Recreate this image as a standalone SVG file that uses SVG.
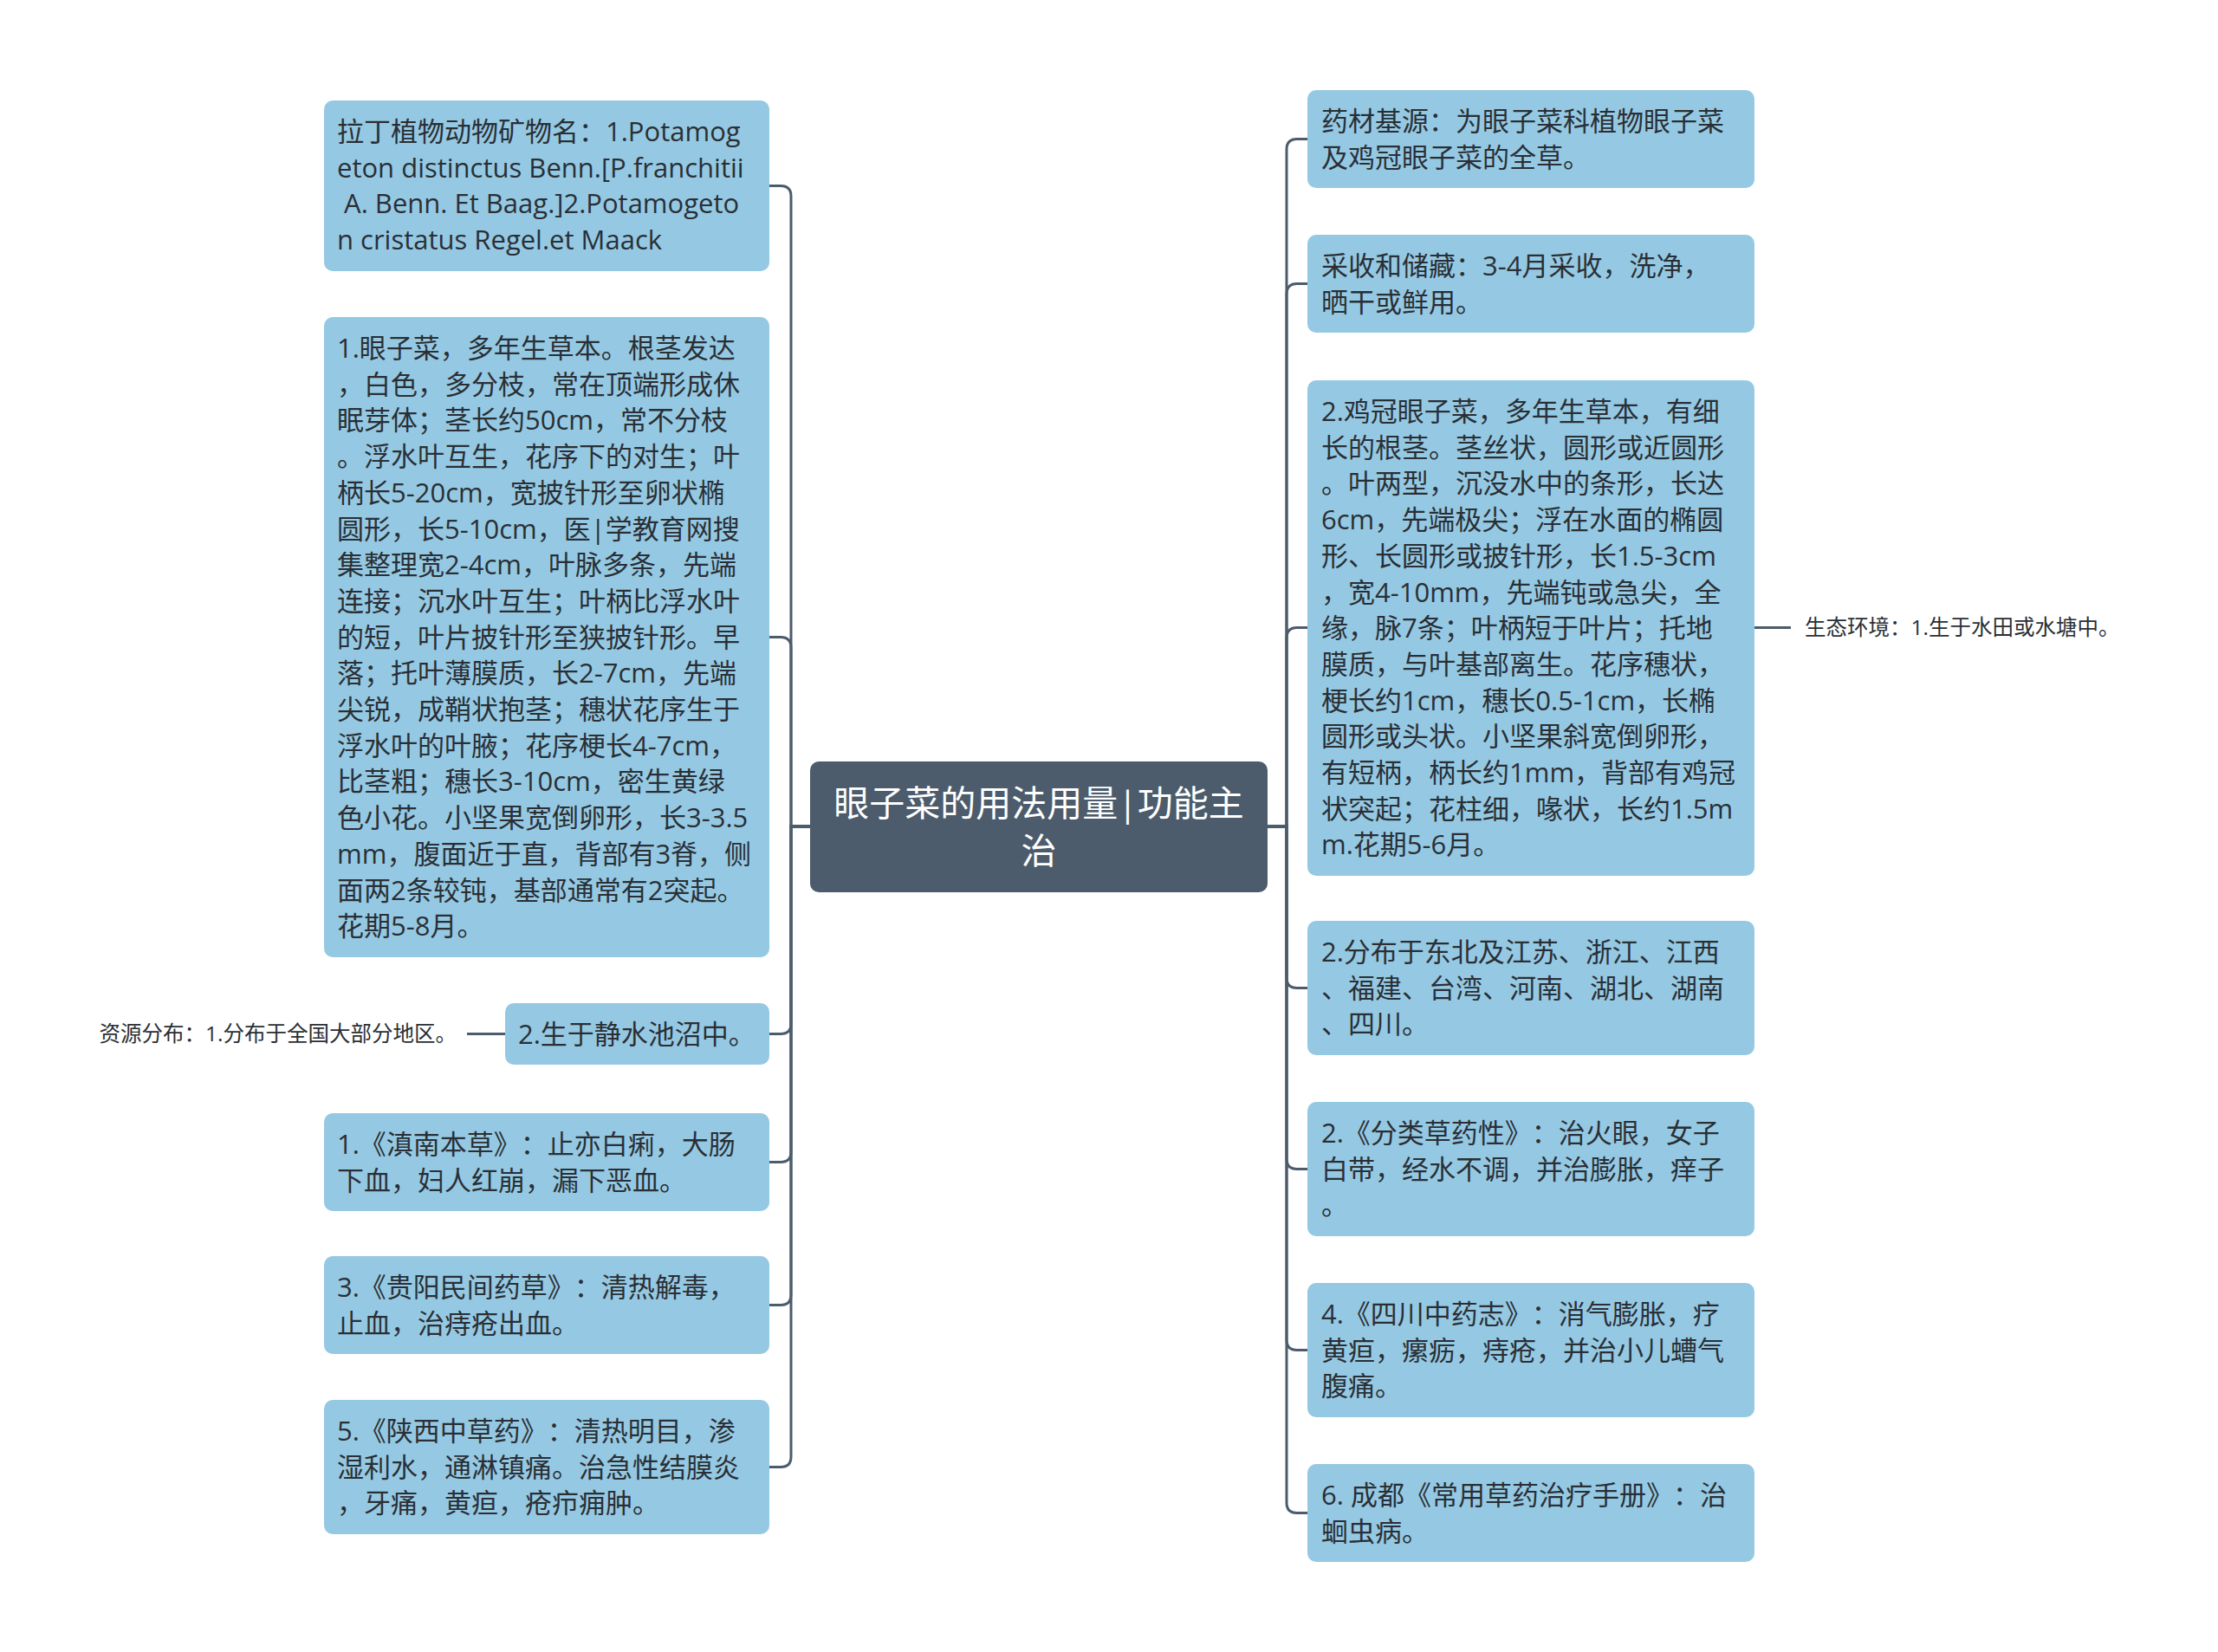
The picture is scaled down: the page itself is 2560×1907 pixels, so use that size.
<svg xmlns="http://www.w3.org/2000/svg" width="2560" height="1907" viewBox="0 0 2560 1907">
<style>
.box{fill:#95C9E3;}
.root{fill:#4C5C6C;}
.t{font-family:"Open Sans","Noto Sans CJK SC",sans-serif;font-size:31px;fill:#2A2F35;text-spacing-trim:space-all;}
.rt{font-family:"Open Sans","Noto Sans CJK SC",sans-serif;font-size:41px;fill:#FFFFFF;text-anchor:middle;}
.lab{font-family:"Open Sans","Noto Sans CJK SC",sans-serif;font-size:24.5px;fill:#2A2F35;text-spacing-trim:space-all;}
.c{fill:none;stroke:#4C5C6C;stroke-width:3;}
</style>
<rect width="2560" height="1907" fill="#FFFFFF"/>
<g id="connectors">
<path class="c" d="M935 954 H913 V226.5 Q913 214.5 901 214.5 H888"/>
<path class="c" d="M935 954 H913 V747.5 Q913 735.5 901 735.5 H888"/>
<path class="c" d="M935 954 H913 V1181.5 Q913 1193.5 901 1193.5 H888"/>
<path class="c" d="M935 954 H913 V1329.5 Q913 1341.5 901 1341.5 H888"/>
<path class="c" d="M935 954 H913 V1494.5 Q913 1506.5 901 1506.5 H888"/>
<path class="c" d="M935 954 H913 V1681.5 Q913 1693.5 901 1693.5 H888"/>
<path class="c" d="M1463 954 H1485 V172.5 Q1485 160.5 1497 160.5 H1509"/>
<path class="c" d="M1463 954 H1485 V339.5 Q1485 327.5 1497 327.5 H1509"/>
<path class="c" d="M1463 954 H1485 V736.5 Q1485 724.5 1497 724.5 H1509"/>
<path class="c" d="M1463 954 H1485 V1128.5 Q1485 1140.5 1497 1140.5 H1509"/>
<path class="c" d="M1463 954 H1485 V1337.5 Q1485 1349.5 1497 1349.5 H1509"/>
<path class="c" d="M1463 954 H1485 V1546.5 Q1485 1558.5 1497 1558.5 H1509"/>
<path class="c" d="M1463 954 H1485 V1734.5 Q1485 1746.5 1497 1746.5 H1509"/>
<path class="c" d="M583 1193.5 H539"/>
<path class="c" d="M2025 724.5 H2067"/>
</g>
<g id="root">
<rect class="root" x="935" y="879" width="528" height="151" rx="10"/>
<text class="rt" x="1199" y="942">眼子菜的用法用量|功能主</text>
<text class="rt" x="1199" y="997">治</text>
</g>
<g id="n_latin">
<rect class="box" x="374" y="116" width="514" height="197" rx="10"/>
<text class="t" xml:space="preserve"><tspan x="389" y="163">拉丁植物动物矿物名：1.Potamog</tspan><tspan x="389" y="204.7">eton distinctus Benn.[P.franchitii</tspan><tspan x="389" y="246.4"> A. Benn. Et Baag.]2.Potamogeto</tspan><tspan x="389" y="288.1">n cristatus Regel.et Maack</tspan></text>
</g>
<g id="n_desc1">
<rect class="box" x="374" y="366" width="514" height="739" rx="10"/>
<text class="t"><tspan x="389" y="413">1.眼子菜，多年生草本。根茎发达</tspan><tspan x="389" y="454.7">，白色，多分枝，常在顶端形成休</tspan><tspan x="389" y="496.4">眠芽体；茎长约50cm，常不分枝</tspan><tspan x="389" y="538.1">。浮水叶互生，花序下的对生；叶</tspan><tspan x="389" y="579.8">柄长5-20cm，宽披针形至卵状椭</tspan><tspan x="389" y="621.5">圆形，长5-10cm，医|学教育网搜</tspan><tspan x="389" y="663.2">集整理宽2-4cm，叶脉多条，先端</tspan><tspan x="389" y="704.9">连接；沉水叶互生；叶柄比浮水叶</tspan><tspan x="389" y="746.6">的短，叶片披针形至狭披针形。早</tspan><tspan x="389" y="788.3">落；托叶薄膜质，长2-7cm，先端</tspan><tspan x="389" y="830">尖锐，成鞘状抱茎；穗状花序生于</tspan><tspan x="389" y="871.7">浮水叶的叶腋；花序梗长4-7cm，</tspan><tspan x="389" y="913.4">比茎粗；穗长3-10cm，密生黄绿</tspan><tspan x="389" y="955.1">色小花。小坚果宽倒卵形，长3-3.5</tspan><tspan x="389" y="996.8">mm，腹面近于直，背部有3脊，侧</tspan><tspan x="389" y="1038.5">面两2条较钝，基部通常有2突起。</tspan><tspan x="389" y="1080.2">花期5-8月。</tspan></text>
</g>
<g id="n_habitat">
<rect class="box" x="583" y="1158" width="305" height="71" rx="10"/>
<text class="t" x="598" y="1205">2.生于静水池沼中。</text>
</g>
<g id="n_distribution_label">
<text class="lab" x="527" y="1202" text-anchor="end">资源分布：1.分布于全国大部分地区。</text>
</g>
<g id="n_diannan">
<rect class="box" x="374" y="1285" width="514" height="113" rx="10"/>
<text class="t"><tspan x="389" y="1332">1.《滇南本草》：止亦白痢，大肠</tspan><tspan x="389" y="1373.7">下血，妇人红崩，漏下恶血。</tspan></text>
</g>
<g id="n_guiyang">
<rect class="box" x="374" y="1450" width="514" height="113" rx="10"/>
<text class="t"><tspan x="389" y="1497">3.《贵阳民间药草》：清热解毒，</tspan><tspan x="389" y="1538.7">止血，治痔疮出血。</tspan></text>
</g>
<g id="n_shaanxi">
<rect class="box" x="374" y="1616" width="514" height="155" rx="10"/>
<text class="t"><tspan x="389" y="1663">5.《陕西中草药》：清热明目，渗</tspan><tspan x="389" y="1704.7">湿利水，通淋镇痛。治急性结膜炎</tspan><tspan x="389" y="1746.4">，牙痛，黄疸，疮疖痈肿。</tspan></text>
</g>
<g id="n_source">
<rect class="box" x="1509" y="104" width="516" height="113" rx="10"/>
<text class="t"><tspan x="1525" y="151">药材基源：为眼子菜科植物眼子菜</tspan><tspan x="1525" y="192.7">及鸡冠眼子菜的全草。</tspan></text>
</g>
<g id="n_harvest">
<rect class="box" x="1509" y="271" width="516" height="113" rx="10"/>
<text class="t"><tspan x="1525" y="318">采收和储藏：3-4月采收，洗净，</tspan><tspan x="1525" y="359.7">晒干或鲜用。</tspan></text>
</g>
<g id="n_desc2">
<rect class="box" x="1509" y="439" width="516" height="572" rx="10"/>
<text class="t"><tspan x="1525" y="486">2.鸡冠眼子菜，多年生草本，有细</tspan><tspan x="1525" y="527.7">长的根茎。茎丝状，圆形或近圆形</tspan><tspan x="1525" y="569.4">。叶两型，沉没水中的条形，长达</tspan><tspan x="1525" y="611.1">6cm，先端极尖；浮在水面的椭圆</tspan><tspan x="1525" y="652.8">形、长圆形或披针形，长1.5-3cm</tspan><tspan x="1525" y="694.5">，宽4-10mm，先端钝或急尖，全</tspan><tspan x="1525" y="736.2">缘，脉7条；叶柄短于叶片；托地</tspan><tspan x="1525" y="777.9">膜质，与叶基部离生。花序穗状，</tspan><tspan x="1525" y="819.6">梗长约1cm，穗长0.5-1cm，长椭</tspan><tspan x="1525" y="861.3">圆形或头状。小坚果斜宽倒卵形，</tspan><tspan x="1525" y="903">有短柄，柄长约1mm，背部有鸡冠</tspan><tspan x="1525" y="944.7">状突起；花柱细，喙状，长约1.5m</tspan><tspan x="1525" y="986.4">m.花期5-6月。</tspan></text>
</g>
<g id="n_ecology_label">
<text class="lab" x="2083" y="733">生态环境：1.生于水田或水塘中。</text>
</g>
<g id="n_region">
<rect class="box" x="1509" y="1063" width="516" height="155" rx="10"/>
<text class="t"><tspan x="1525" y="1110">2.分布于东北及江苏、浙江、江西</tspan><tspan x="1525" y="1151.7">、福建、台湾、河南、湖北、湖南</tspan><tspan x="1525" y="1193.4">、四川。</tspan></text>
</g>
<g id="n_fenlei">
<rect class="box" x="1509" y="1272" width="516" height="155" rx="10"/>
<text class="t"><tspan x="1525" y="1319">2.《分类草药性》：治火眼，女子</tspan><tspan x="1525" y="1360.7">白带，经水不调，并治膨胀，痒子</tspan><tspan x="1525" y="1402.4">。</tspan></text>
</g>
<g id="n_sichuan">
<rect class="box" x="1509" y="1481" width="516" height="155" rx="10"/>
<text class="t"><tspan x="1525" y="1528">4.《四川中药志》：消气膨胀，疗</tspan><tspan x="1525" y="1569.7">黄疸，瘰疬，痔疮，并治小儿螬气</tspan><tspan x="1525" y="1611.4">腹痛。</tspan></text>
</g>
<g id="n_chengdu">
<rect class="box" x="1509" y="1690" width="516" height="113" rx="10"/>
<text class="t"><tspan x="1525" y="1737">6. 成都《常用草药治疗手册》：治</tspan><tspan x="1525" y="1778.7">蛔虫病。</tspan></text>
</g>
</svg>
